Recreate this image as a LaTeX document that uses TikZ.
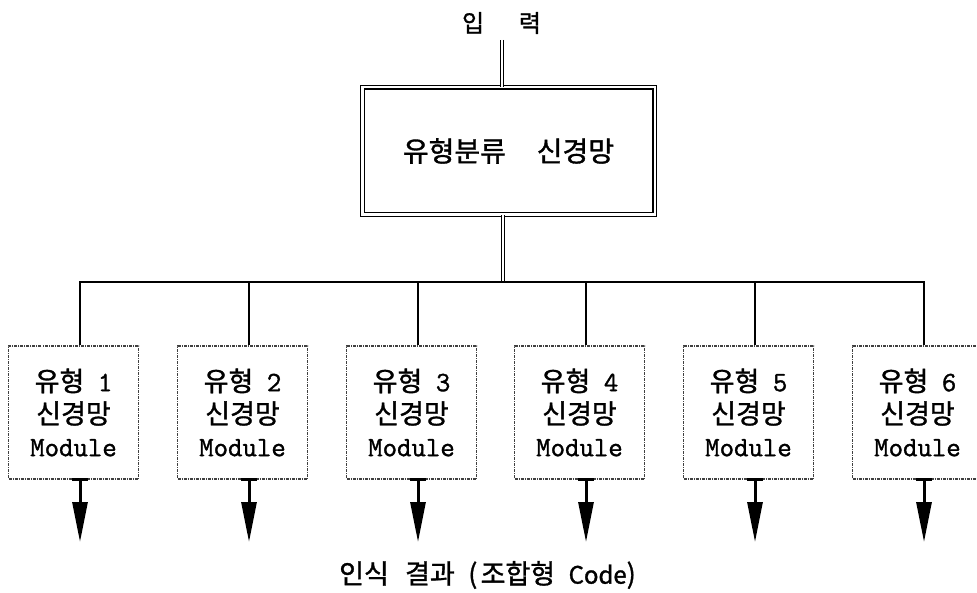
\documentclass[tikz,border=0pt]{standalone}
\usepackage{fontspec}
\newfontfamily\kr{Noto Sans CJK KR}[FakeBold=1.2]
\newfontfamily\mono{Latin Modern Mono}[FakeBold=1.3]
\usetikzlibrary{arrows.meta}
\begin{document}
\begin{tikzpicture}[x=1pt,y=-1pt,
  bus/.style={line width=2pt},
  dbl/.style={draw, line width=1.1pt, double=white, double distance=2.4pt},
  mainbox/.style={dbl, minimum width=292.4pt, minimum height=127.4pt, inner sep=0pt,
    font=\kr\fontsize{28}{30}\selectfont},
  modbox/.style={draw=black!75, line width=1.1pt, dash pattern=on 3pt off 1pt on 1pt off 1pt,
    minimum width=130pt, minimum height=133pt, inner sep=0pt, align=center,
    font=\kr\fontsize{27}{32.5}\selectfont},
  outarrow/.style={line width=3pt, -{Triangle[length=40pt,width=15pt]}},
  barline/.style={line width=3pt},
  lbl/.style={inner sep=0pt, font=\kr\fontsize{24}{28}\selectfont}
]
\useasboundingbox (0,0) rectangle (977,593);

% input label
\node[lbl] (inlbl) at (501.5,23) {입\hspace{1.45em}력};

% main classifier box
\node[mainbox] (main) at (508.5,151) {유형분류\hspace{1.1em}신경망};

% input and output double connectors
\coordinate (in) at (502,40);
\draw[dbl] (in) -- (in |- main.north);
\coordinate (bj) at (503,282);
\draw[dbl] (bj |- main.south) -- (bj);

% module boxes
\foreach \i/\dx in {1/80,2/249,3/418,4/586,5/755,6/924} {
  \coordinate (d\i) at (\dx,282);
  \coordinate (e\i) at (\dx,542);
  \node[modbox] (m\i) at (\dx-6.5,412.5)
    {유형\hspace{0.5em}{\mono\fontsize{28}{32.5}\selectfont \i}\\
     신경망\\
     {\mono\fontsize{28}{32.5}\selectfont Module}};
  \coordinate (a\i) at (d\i |- m\i.south);
  \draw[barline] ([xshift=-8pt]a\i) -- ([xshift=8pt]a\i);
  \draw[outarrow] (a\i) -- (e\i);
}

% bus
\draw[bus] (d1 |- m1.north) -- (d1) -- (d6) -- (d6 |- m6.north);
\foreach \i in {2,3,4,5} {
  \draw[bus] (d\i) -- (d\i |- m\i.north);
}

% output label
\node[lbl, font=\kr\fontsize{27}{30}\selectfont] (outlbl) at (487.5,575)
  {인식\hspace{0.6em}결과\hspace{0.5em}(\hspace{0.12em}조합형\hspace{0.5em}{\fontsize{24}{30}\selectfont Code})};
\end{tikzpicture}
\end{document}
